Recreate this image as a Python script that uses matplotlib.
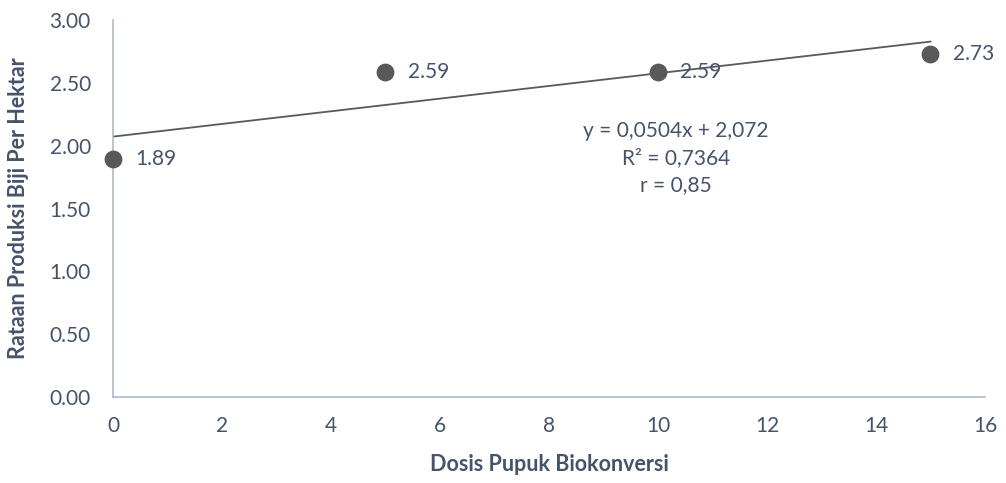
import matplotlib.pyplot as plt
import numpy as np

plt.rcParams['font.family'] = ['Lato', 'DejaVu Sans']

dosis = [0, 5, 10, 15]
produksi = [1.89, 2.59, 2.59, 2.73]
slope = 0.0504
intercept = 2.072

text_col = '#44546A'
axis_col = '#ADB9CA'
mark_col = '#595959'

fig = plt.figure(figsize=(10.06, 4.83), dpi=100)
ax = fig.add_axes([0.1123, 0.178, 0.8668, 0.7806])

# trendline
xt = np.array([min(dosis), max(dosis)])
ax.plot(xt, slope * xt + intercept, color=mark_col, lw=1.3, zorder=2)

ax.scatter(dosis, produksi, s=140, color=mark_col, zorder=3, clip_on=False)
for x, y in zip(dosis, produksi):
    ax.annotate(f'{y:.2f}', (x, y), xytext=(16, 0), textcoords='offset points',
                va='center', ha='left', fontsize=15, color=text_col)

ax.text(10.33, 1.9, 'y = 0,0504x + 2,072\nR² = 0,7364\nr = 0,85', ha='center', va='center',
        fontsize=15, color=text_col, linespacing=1.45)

ax.set_xlim(0, 16)
ax.set_ylim(0, 3)
ax.set_xticks(range(0, 17, 2))
ax.set_yticks(np.arange(0, 3.01, 0.5))
ax.set_yticklabels([f'{v:.2f}' for v in np.arange(0, 3.01, 0.5)])
ax.tick_params(length=0, labelsize=15, colors=text_col)
ax.tick_params(axis='y', pad=16)
ax.tick_params(axis='x', pad=14)

for s in ['top', 'right']:
    ax.spines[s].set_visible(False)
for s in ['left', 'bottom']:
    ax.spines[s].set_color(axis_col)
    ax.spines[s].set_linewidth(1.2)

ax.set_xlabel('Dosis Pupuk Biokonversi', fontsize=15.5, fontweight='bold', color=text_col, va='center')
ax.set_ylabel('Rataan Produksi Biji Per Hektar', fontsize=15.5, fontweight='bold', color=text_col, va='center')
ax.xaxis.set_label_coords(0.5, -0.18)
ax.yaxis.set_label_coords(-0.108, 0.5)

fig.savefig('out.png', dpi=100)
